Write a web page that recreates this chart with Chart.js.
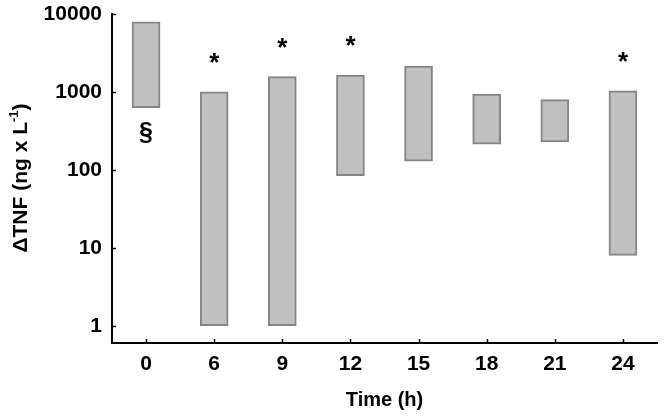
<!DOCTYPE html>
<html>
<head>
<meta charset="utf-8">
<script src="https://cdn.jsdelivr.net/npm/chart.js@4/dist/chart.umd.min.js"></script>
<style>
  html, body { margin: 0; padding: 0; background: #fff; }
  #wrap { width: 664px; height: 417px; }
</style>
</head>
<body>
<div id="wrap"><canvas id="c" width="664" height="417"></canvas></div>
<script>
// ---- data ----
const categories = ['0', '6', '9', '12', '15', '18', '21', '24'];
const lowValues  = [630, 1, 1, 84, 129, 214, 228, 8];
const highValues = [7950, 1000, 1570, 1650, 2150, 935, 797, 1030];
const marks      = ['§', '*', '*', '*', '', '', '', '*'];
const yTickValues = [1, 10, 100, 1000, 10000];
const xTitle = 'Time (h)';
const yTitleMain = 'ΔTNF (ng x L';
const yTitleSup = '-1';
const yTitleEnd = ')';

const FONT = "'Liberation Sans', Arial, sans-serif";

const ranges = categories.map((c, i) => [lowValues[i], highValues[i]]);

const extras = {
  id: 'extras',
  afterDraw(chart) {
    const ctx = chart.ctx;
    const xs = chart.scales.x, ys = chart.scales.y;
    const area = chart.chartArea;
    ctx.save();
    // inward tick marks
    ctx.strokeStyle = '#000';
    ctx.lineWidth = 1.5;
    ys.ticks.forEach((t, i) => {
      const y = Math.round(ys.getPixelForTick(i)) + 0.5;
      ctx.beginPath(); ctx.moveTo(area.left, y); ctx.lineTo(area.left + 4, y); ctx.stroke();
    });
    xs.ticks.forEach((t, i) => {
      const x = Math.round(xs.getPixelForTick(i)) + 0.5;
      ctx.beginPath(); ctx.moveTo(x, area.bottom); ctx.lineTo(x, area.bottom - 4); ctx.stroke();
    });
    // significance marks
    const meta = chart.getDatasetMeta(0);
    ctx.fillStyle = '#000';
    ctx.textAlign = 'center';
    ctx.textBaseline = 'alphabetic';
    marks.forEach((m, i) => {
      if (!m) return;
      const el = meta.data[i];
      const top = Math.min(el.y, el.base), bottom = Math.max(el.y, el.base);
      if (m === '*') {
        ctx.font = 'bold 26px ' + FONT;
        ctx.fillText(m, el.x, top - 21);
      } else {
        ctx.font = 'bold 25px ' + FONT;
        ctx.fillText(m, el.x, bottom + 32);
      }
    });
    // y axis title with superscript
    ctx.translate(21, 178);
    ctx.rotate(-Math.PI / 2);
    ctx.textBaseline = 'middle';
    ctx.textAlign = 'left';
    const f1 = 'bold 21px ' + FONT, f2 = 'bold 13px ' + FONT;
    ctx.font = f1; const w1 = ctx.measureText(yTitleMain).width; const w3 = ctx.measureText(yTitleEnd).width;
    ctx.font = f2; const w2 = ctx.measureText(yTitleSup).width;
    let x0 = -(w1 + w2 + w3) / 2;
    ctx.font = f1; ctx.fillText(yTitleMain, x0, 0);
    ctx.font = f2; ctx.fillText(yTitleSup, x0 + w1, -7);
    ctx.font = f1; ctx.fillText(yTitleEnd, x0 + w1 + w2, 0);
    ctx.restore();
  }
};

new Chart(document.getElementById('c'), {
  type: 'bar',
  data: {
    labels: categories,
    datasets: [{
      data: ranges,
      backgroundColor: '#c0c0c0',
      borderColor: '#858585',
      borderWidth: 2,
      borderSkipped: false,
      barThickness: 28
    }]
  },
  options: {
    responsive: false,
    animation: false,
    devicePixelRatio: 1,
    layout: { padding: { top: 14, right: 7, left: 0, bottom: 0 } },
    plugins: { legend: { display: false }, tooltip: { enabled: false } },
    scales: {
      x: {
        type: 'category',
        offset: true,
        grid: { display: false, drawTicks: false },
        border: { display: true, color: '#000', width: 2 },
        ticks: { color: '#000', font: { family: FONT, size: 21, weight: 'bold' }, padding: 9, maxRotation: 0 },
        title: { display: true, text: xTitle, color: '#000', font: { family: FONT, size: 20, weight: 'bold' }, padding: { top: 5, bottom: 5 } },
        afterFit: s => { s.height = 74; s.paddingLeft = 0; s.paddingRight = 0; }
      },
      y: {
        type: 'logarithmic',
        min: 0.63,
        max: 10000,
        grid: { display: false, drawTicks: false },
        border: { display: true, color: '#000', width: 2 },
        afterBuildTicks: s => { s.ticks = yTickValues.map(v => ({ value: v })); },
        ticks: { color: '#000', font: { family: FONT, size: 21, weight: 'bold' }, padding: 10, autoSkip: false, callback: v => String(v) },
        afterFit: s => { s.width = 112; s.paddingTop = 0; s.paddingBottom = 0; }
      }
    }
  },
  plugins: [extras]
});
</script>
</body>
</html>
